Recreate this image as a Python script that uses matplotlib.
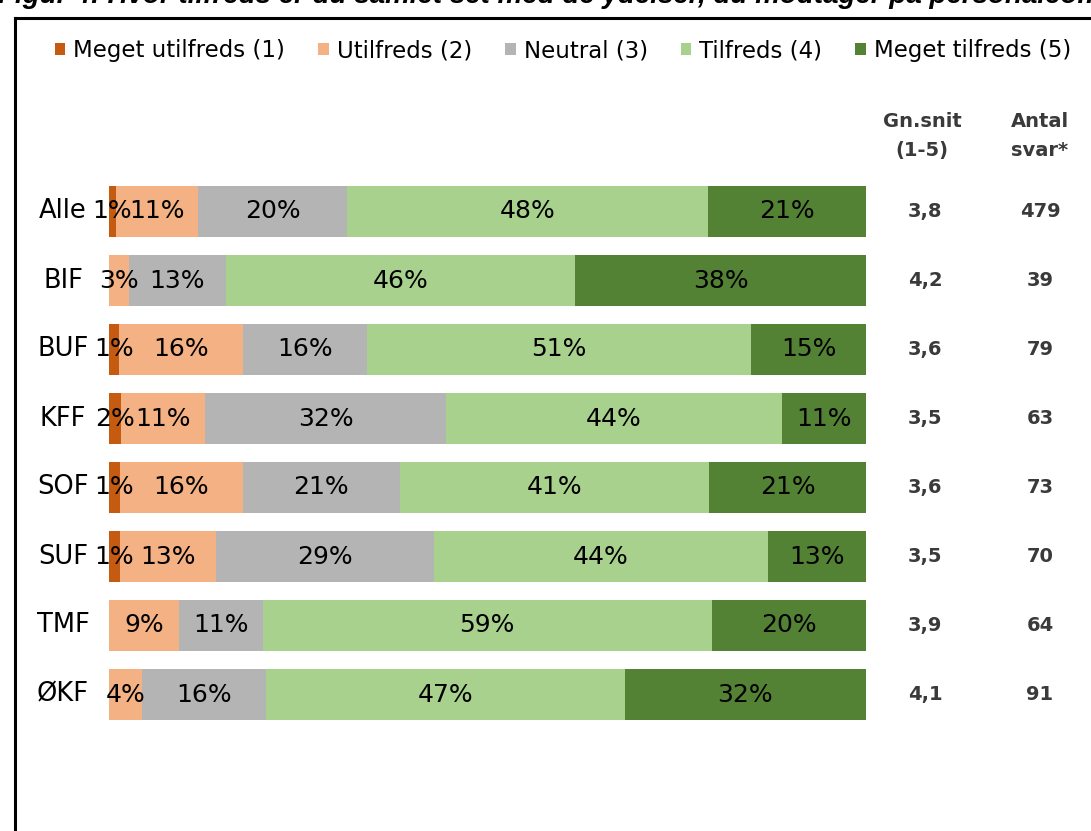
import numpy as np
import matplotlib.pyplot as plt
from matplotlib.patches import Patch
from matplotlib.lines import Line2D

# data (percent of answers per rating)
groups = ["Alle", "BIF", "BUF", "KFF", "SOF", "SUF", "TMF", "ØKF"]
meget_utilfreds = [0.9, 0.0, 1.3, 1.6, 1.4, 1.4, 0.0, 0.0]
utilfreds = [10.8, 2.6, 16.4, 11.1, 16.3, 12.8, 9.3, 4.4]
neutral = [19.8, 12.8, 16.4, 31.8, 20.7, 28.7, 11.0, 16.4]
tilfreds = [47.6, 46.2, 50.7, 44.4, 40.9, 44.2, 59.3, 47.3]
meget_tilfreds = [20.9, 38.4, 15.2, 11.1, 20.7, 12.9, 20.4, 31.9]
gennemsnit = ["3,8", "4,2", "3,6", "3,5", "3,6", "3,5", "3,9", "4,1"]
antal_svar = [479, 39, 79, 63, 73, 70, 64, 91]

series_names = ["Meget utilfreds (1)", "Utilfreds (2)", "Neutral (3)",
                "Tilfreds (4)", "Meget tilfreds (5)"]
colors = ["#C55A11", "#F4B183", "#B4B4B4", "#A9D18E", "#548235"]

plt.rcParams['font.family'] = ['DejaVu Sans']

W, H = 1091, 831
fig = plt.figure(figsize=(W / 100, H / 100), dpi=100)
ax = fig.add_axes([109 / W, 1 - 729 / H, 757 / W, 552 / H])

y = np.arange(len(groups))
left = np.zeros(len(groups))
for vals, name, col in zip([meget_utilfreds, utilfreds, neutral, tilfreds, meget_tilfreds],
                           series_names, colors):
    vals = np.array(vals)
    ax.barh(y, vals, left=left, height=0.725, color=col, label=name)
    for yi, (l, v) in enumerate(zip(left, vals)):
        if v > 0:
            ax.text(l + v / 2, yi, f"{int(v + 0.5)}%", ha='center', va='center',
                    fontsize=18, color='black')
    left += vals

ax.set_xlim(0, 100)
ax.set_ylim(len(groups) - 0.5, -0.5)
ax.axis('off')

# group labels
for yi, g in enumerate(groups):
    ax.text((63 - 109) / 757, yi, g, transform=ax.get_yaxis_transform(),
            ha='center', va='center', fontsize=18.5)

# right-hand columns
col1 = (925 - 109) / 757
col2 = (1040 - 109) / 757
side_kw = dict(ha='center', va='center', fontsize=14, fontweight='bold', color='#3a3a3a')
for yi in range(len(groups)):
    ax.text(col1, yi, gennemsnit[yi], transform=ax.get_yaxis_transform(), **side_kw)
    ax.text(col2, yi, str(antal_svar[yi]), transform=ax.get_yaxis_transform(), **side_kw)

fig.text(922 / W, 1 - 136 / H, "Gn.snit\n(1-5)", linespacing=1.7, **side_kw)
fig.text(1040 / W, 1 - 136 / H, "Antal\nsvar*", linespacing=1.7, **side_kw)

# legend
handles = [Patch(facecolor=c, edgecolor='none') for c in colors]
fig.legend(handles, series_names, loc='center', bbox_to_anchor=(563 / W, 1 - 51 / H),
           ncol=5, frameon=False, fontsize=16.5, handlelength=0.45, handleheight=0.45,
           handletextpad=0.35, columnspacing=1.45)

# title (cut off at the top) and frame
fig.text(-2 / W, 1 - 3 / H, "Figur 4: Hvor tilfreds er du samlet set med de ydelser, du modtager på personaleområdet",
         ha='left', va='baseline', fontsize=20, fontweight='bold', style='italic',
         family='Liberation Sans')
fig.add_artist(Line2D([15 / W, 1], [1 - 18 / H, 1 - 18 / H], color='black', lw=2.2))
fig.add_artist(Line2D([15 / W, 15 / W], [1 - 18 / H, 0], color='black', lw=2.2))

fig.savefig("out.png", dpi=100)
